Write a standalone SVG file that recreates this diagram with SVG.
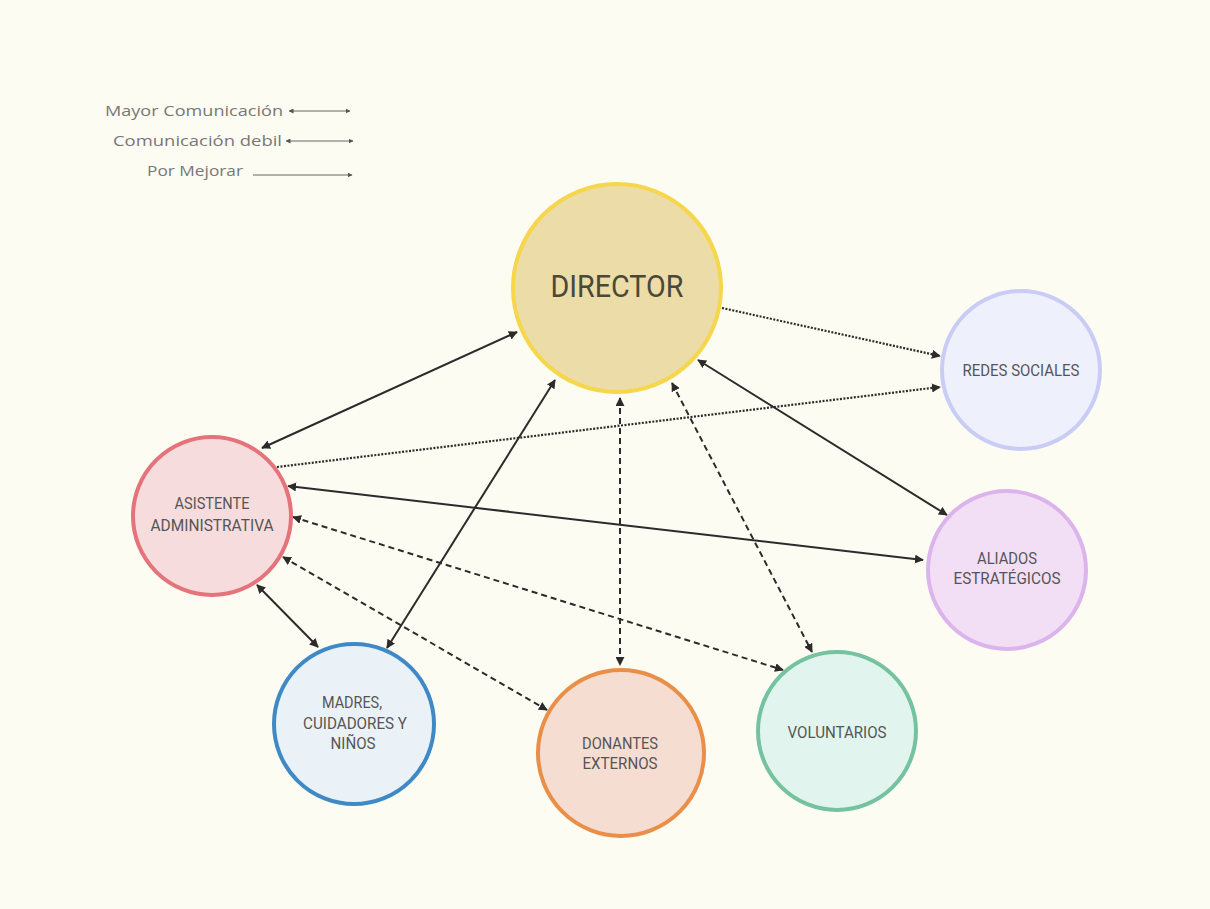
<svg xmlns="http://www.w3.org/2000/svg" width="1210" height="909" viewBox="0 0 1210 909">
<defs>
<marker id="ah" viewBox="0 0 10 10" refX="9" refY="5" markerWidth="9" markerHeight="9" markerUnits="userSpaceOnUse" orient="auto-start-reverse">
<path d="M0,0 L10,5 L0,10 z" fill="#2b2b2b"/>
</marker>
<marker id="ahs" viewBox="0 0 10 10" refX="9" refY="5" markerWidth="5" markerHeight="5" markerUnits="userSpaceOnUse" orient="auto-start-reverse">
<path d="M0,0 L10,5 L0,10 z" fill="#555"/>
</marker>
</defs>
<style>
.bg{fill:#fcfcf3}
.node{stroke-width:4}
.lbl{font-family:Roboto,"Liberation Sans",sans-serif;font-size:16px;fill:#555;text-anchor:middle}
.leg{font-family:"Open Sans","Liberation Sans",sans-serif;font-size:15px;fill:#777}
.c{fill:none;stroke:#2b2b2b;stroke-width:2}
.dot{stroke-dasharray:2 1.5;stroke-width:2.2}
.dash{stroke-dasharray:6 4}
.one{marker-end:url(#ah)}
.both{marker-start:url(#ah);marker-end:url(#ah)}
.lg{fill:none;stroke:#666;stroke-width:1}
</style>
<rect class="bg" width="1210" height="909"/>

<g id="legend">
<text class="leg" x="283" y="116" text-anchor="end" textLength="178" lengthAdjust="spacingAndGlyphs">Mayor Comunicación</text>
<line class="lg" x1="289" y1="111" x2="350" y2="111" stroke-width="1.5" marker-start="url(#ahs)" marker-end="url(#ahs)"/>
<text class="leg" x="282" y="146" text-anchor="end" textLength="169" lengthAdjust="spacingAndGlyphs">Comunicación debil</text>
<line class="lg" x1="286" y1="141" x2="353" y2="141" marker-start="url(#ahs)" marker-end="url(#ahs)"/>
<text class="leg" x="243" y="176" text-anchor="end" textLength="96" lengthAdjust="spacingAndGlyphs">Por Mejorar</text>
<line class="lg" x1="253" y1="175" x2="352" y2="175" marker-end="url(#ahs)"/>
</g>

<g id="connectors">
<line class="c both" x1="517" y1="332" x2="262" y2="448"/>
<line class="c dot one" x1="722" y1="308" x2="940" y2="356"/>
<line class="c dot one" x1="277" y1="467" x2="940" y2="387"/>
<line class="c both" x1="698" y1="360" x2="947" y2="515"/>
<line class="c both" x1="288" y1="486" x2="923" y2="560"/>
<line class="c both" x1="555" y1="380" x2="387" y2="648"/>
<line class="c dash both" x1="620" y1="398" x2="620" y2="665"/>
<line class="c dash both" x1="672" y1="383" x2="812" y2="652"/>
<line class="c dash both" x1="293" y1="517" x2="783" y2="670"/>
<line class="c dash both" x1="283" y1="557" x2="547" y2="710"/>
<line class="c both" x1="257" y1="585" x2="318" y2="647"/>
</g>

<g id="director">
<circle class="node" cx="617" cy="288" r="104" fill="#ecdca8" stroke="#f6d64a" stroke-width="5"/>
<text x="617" y="297" font-family="Roboto,'Liberation Sans',sans-serif" font-size="31" fill="#4a4838" text-anchor="middle" textLength="133" lengthAdjust="spacingAndGlyphs">DIRECTOR</text>
</g>

<g id="redes">
<circle class="node" cx="1021" cy="370" r="79" fill="#eef0fc" stroke="#c9ccf4"/>
<text class="lbl" x="1021" y="376" textLength="117" lengthAdjust="spacingAndGlyphs">REDES SOCIALES</text>
</g>

<g id="asistente">
<circle class="node" cx="212" cy="516" r="79" fill="#f6dcdc" stroke="#e5737b"/>
<text class="lbl" x="212" y="509" textLength="75" lengthAdjust="spacingAndGlyphs">ASISTENTE</text>
<text class="lbl" x="212" y="531" textLength="123" lengthAdjust="spacingAndGlyphs">ADMINISTRATIVA</text>
</g>

<g id="aliados">
<circle class="node" cx="1007" cy="570" r="79" fill="#f2def5" stroke="#dcb4ec"/>
<text class="lbl" x="1007" y="564" textLength="60" lengthAdjust="spacingAndGlyphs">ALIADOS</text>
<text class="lbl" x="1007" y="584" textLength="107" lengthAdjust="spacingAndGlyphs">ESTRATÉGICOS</text>
</g>

<g id="madres">
<circle class="node" cx="354" cy="724" r="80" fill="#eaf2f7" stroke="#3f8ac6"/>
<text class="lbl" x="352" y="708" textLength="60" lengthAdjust="spacingAndGlyphs">MADRES,</text>
<text class="lbl" x="355" y="729" textLength="104" lengthAdjust="spacingAndGlyphs">CUIDADORES Y</text>
<text class="lbl" x="353" y="749" textLength="45" lengthAdjust="spacingAndGlyphs">NIÑOS</text>
</g>

<g id="donantes">
<circle class="node" cx="621" cy="753" r="83" fill="#f5ddd2" stroke="#e98f48"/>
<text class="lbl" x="620" y="749" textLength="76" lengthAdjust="spacingAndGlyphs">DONANTES</text>
<text class="lbl" x="620" y="769" textLength="75" lengthAdjust="spacingAndGlyphs">EXTERNOS</text>
</g>

<g id="voluntarios">
<circle class="node" cx="837" cy="731" r="79" fill="#e1f5ee" stroke="#74c2a0"/>
<text class="lbl" x="837" y="738" textLength="99" lengthAdjust="spacingAndGlyphs">VOLUNTARIOS</text>
</g>
</svg>
